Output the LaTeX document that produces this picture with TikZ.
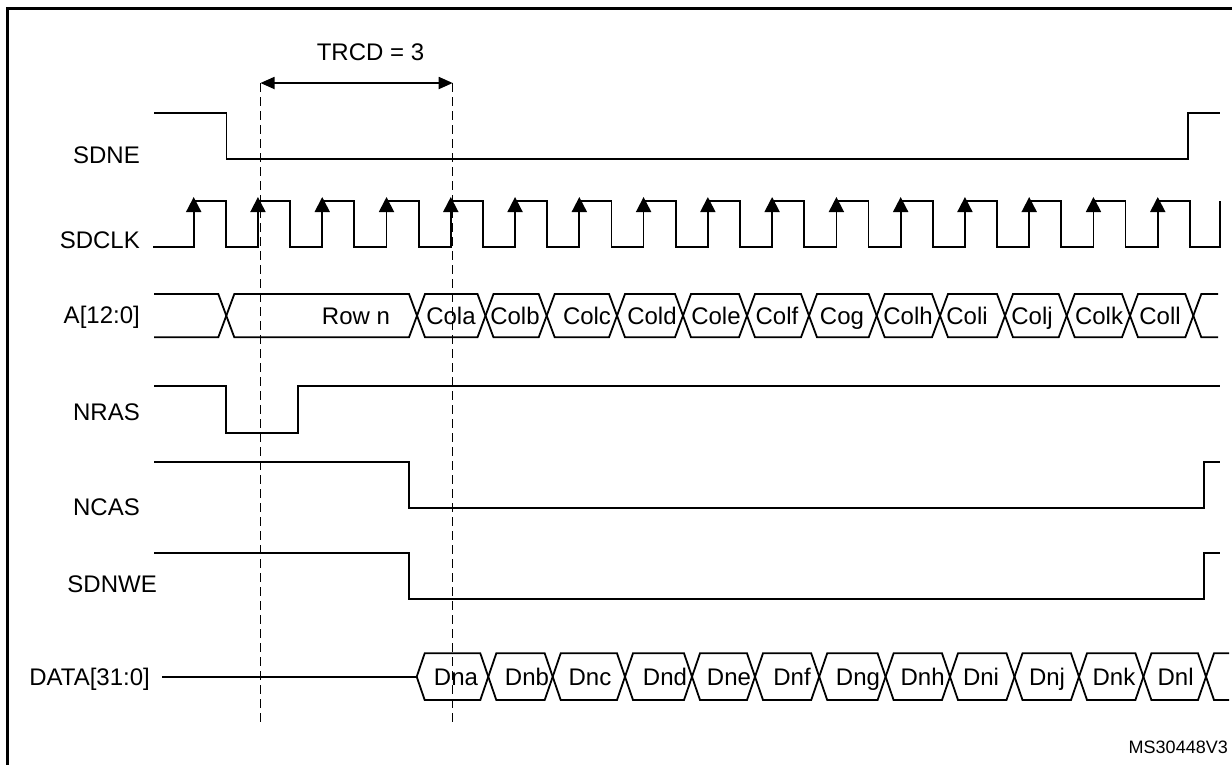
\documentclass[tikz,border=0pt]{standalone}
\usepackage{fontspec}
\setmainfont{Liberation Sans}
\usetikzlibrary{arrows.meta}

\begin{document}
\begin{tikzpicture}[x=1pt, y=-1pt,
        sig/.style={line width=1.8pt},
        guide/.style={line width=1.5pt, dash pattern=on 9pt off 5pt},
        clkarrow/.style={line width=1.8pt, -{Triangle[length=15pt,width=15pt]}},
        lbl/.style={anchor=base east, inner sep=0pt, font=\fontsize{24}{28}\selectfont},
        val/.style={anchor=base, inner sep=0pt, font=\fontsize{24}{28}\selectfont}]
            \useasboundingbox (0,0) rectangle (1232,764);

            % Frame
            \draw[line width=2.8pt] (7.5,790) -- (7.5,8.5) -- (1260,8.5);

            % Signal names
            \node[lbl] (sdne) at (140,163.5) {SDNE};
            \node[lbl] (sdclk) at (140,248.5) {SDCLK};
            \node[lbl] (addr) at (140,323.5) {A[12:0]};
            \node[lbl] (nras) at (140,420) {NRAS};
            \node[lbl] (ncas) at (140,515) {NCAS};
            \node[lbl] (sdnwe) at (157,592) {SDNWE};
            \node[lbl] (data) at (150,685.5) {DATA[31:0]};
            \node[lbl, font=\fontsize{18}{21}\selectfont] (ref) at (1228,753) {MS30448V3};

            % TRCD markers
            \coordinate (t1) at (260.5,83);
            \coordinate (t2) at (452.7,83);
            \coordinate (b1) at (260.5,725);
            \coordinate (b2) at (452.7,725);
            \draw[guide] (t1) -- (b1);
            \draw[guide] (t2) -- (b2);
            \draw[line width=1.8pt, {Triangle[length=14pt,width=12pt]}-{Triangle[length=14pt,width=12pt]}] (t1) -- (t2);
            \node[val] (trcd) at (370.5,60) {TRCD = 3};

            % SDNE
            \draw[sig] (154,112.7) -- (226.5,112.7) -- (226.5,159.3) -- (1188,159.3) -- (1188,112.7) -- (1220,112.7);

            % SDCLK
            \draw[sig] (153,247.3) \foreach \k in {0,...,15} {
                -- ({193.7+64.27*\k},247.3) -- ({193.7+64.27*\k},201)
                -- ({225.8+64.27*\k},201) -- ({225.8+64.27*\k},247.3) }
                -- (1220,247.3) -- (1220,201);
            \foreach \k in {0,...,15}
                \draw[clkarrow] ({193.7+64.27*\k},228) -- ({193.7+64.27*\k},197);

            % A[12:0]
            \draw[sig] (154,294) -- (218.3,294) -- (226.3,315.7) -- (218.3,337.3) -- (154,337.3);
            \foreach \a/\b/\t/\x [count=\i] in {226.3/417/{Row n}/356, 417/485.5/Cola/451,
                485.5/546.7/Colb/515, 546.7/617/Colc/587, 617/683/Cold/652, 683/747/Cole/716,
                747/809/Colf/777, 809/876.7/Cog/842, 876.7/940/Colh/908, 940/1005/Coli/967,
                1005/1066.7/Colj/1032, 1066.7/1130/Colk/1099, 1130/1193.3/Coll/1160} {
                \draw[sig] (\a,315.7) -- (\a+8,294) -- (\b-8,294) -- (\b,315.7) -- (\b-8,337.3) -- (\a+8,337.3) -- cycle;
                \node[val] (a\i) at (\x,324) {\t};
            }
            \draw[sig] (1218,294) -- (1201.3,294) -- (1193.3,315.7) -- (1201.3,337.3) -- (1218,337.3);

            % NRAS
            \draw[sig] (154,386.3) -- (226,386.3) -- (226,432.7) -- (297.7,432.7) -- (297.7,386.3) -- (1220,386.3);

            % NCAS
            \draw[sig] (154,461.7) -- (409,461.7) -- (409,507.7) -- (1204.3,507.7) -- (1204.3,461.7) -- (1220,461.7);

            % SDNWE
            \draw[sig] (154,552.7) -- (409,552.7) -- (409,598.7) -- (1204.3,598.7) -- (1204.3,552.7) -- (1220,552.7);

            % DATA[31:0]
            \draw[sig] (162,676.7) -- (416.7,676.7);
            \foreach \a/\b/\t/\x [count=\i] in {416.7/488.3/Dna/456, 488.3/552.7/Dnb/527,
                552.7/625/Dnc/590, 625/692/Dnd/665, 692/755/Dne/729, 755/819.2/Dnf/792,
                819.2/885.6/Dng/858, 885.6/950/Dnh/922.6, 950/1014.5/Dni/981,
                1014.5/1079/Dnj/1047, 1079/1143.4/Dnk/1114, 1143.4/1206/Dnl/1175.6} {
                \draw[sig] (\a,676.7) -- (\a+8,653.3) -- (\b-8,653.3) -- (\b,676.7) -- (\b-8,700) -- (\a+8,700) -- cycle;
                \node[val] (d\i) at (\x,685) {\t};
            }
            \draw[sig] (1229,653.3) -- (1214,653.3) -- (1206,676.7) -- (1214,700) -- (1229,700);
        \end{tikzpicture}
\end{document}
